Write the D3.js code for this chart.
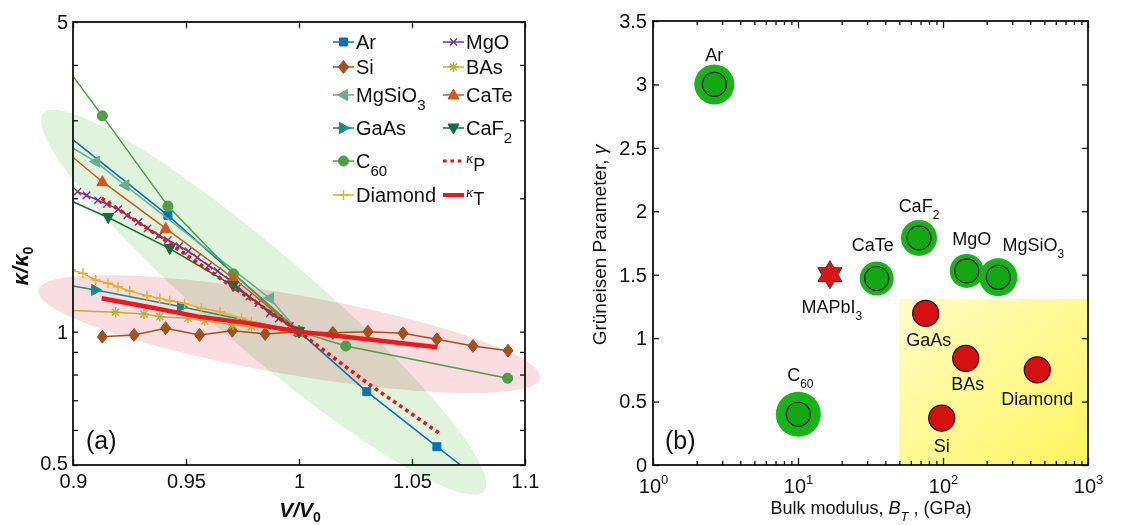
<!DOCTYPE html>
<html>
<head>
<meta charset="utf-8">
<script src="https://cdn.jsdelivr.net/npm/d3@7"></script>
<style>
  body { margin: 0; background: #fff; }
  svg text { font-family: "Liberation Sans", Arial, sans-serif; fill: #111; }
</style>
</head>
<body>
<div id="chart"></div>
<script>
// ---- panel (a) data : [V/V0, kappa/kappa0]
const Ar      = [[0.882, 3.21], [0.942, 1.83], [1.0, 1.0], [1.030, 0.732], [1.061, 0.55], [1.090, 0.422]];
const Si      = [[0.913, 0.974], [0.927, 0.983], [0.941, 1.018], [0.956, 0.983], [0.9705, 1.005], [0.985, 0.988],
                 [1.0, 1.0], [1.015, 0.994], [1.0305, 1.0], [1.046, 0.992], [1.061, 0.961], [1.077, 0.928], [1.0925, 0.906]];
const MgSiO3  = [[0.895, 2.69], [0.910, 2.42], [0.923, 2.14], [0.987, 1.19], [1.0, 1.0]];
const GaAs    = [[0.872, 1.34], [0.910, 1.242], [0.948, 1.138], [1.0, 1.0]];
const C60     = [[0.884, 4.86], [0.913, 3.07], [0.942, 1.92], [0.971, 1.35], [1.0, 1.0], [1.0207, 0.928], [1.0923, 0.785]];
const Diamond = [[0.899, 1.38], [0.9044, 1.354], [0.910, 1.308], [0.9155, 1.286], [0.9199, 1.263], [0.9251, 1.235],
                 [0.9327, 1.205], [0.9384, 1.189], [0.9428, 1.174], [0.9494, 1.159], [0.9568, 1.129], [0.965, 1.109],
                 [0.9746, 1.072], [0.979, 1.053], [1.0, 1.0]];
const MgO     = [[0.902, 2.07], [0.906, 2.03], [0.911, 1.98], [0.915, 1.94], [0.920, 1.89], [0.924, 1.83], [0.929, 1.77],
                 [0.933, 1.71], [0.938, 1.65], [0.942, 1.61], [0.947, 1.56], [0.951, 1.52], [0.955, 1.47], [0.960, 1.41],
                 [0.964, 1.37], [0.969, 1.31], [0.973, 1.26], [0.978, 1.20], [0.982, 1.16], [0.987, 1.10], [0.991, 1.07],
                 [0.996, 1.03], [1.0, 1.0]];
const BAs     = [[0.894, 1.12], [0.9188, 1.106], [0.9314, 1.096], [0.9384, 1.081], [0.9509, 1.072], [0.9583, 1.058],
                 [0.9708, 1.035], [0.979, 1.026], [1.0, 1.0]];
const CaTe    = [[0.884, 2.89], [0.913, 2.18], [0.941, 1.71], [0.971, 1.32], [1.0, 1.0]];
const CaF2    = [[0.888, 2.09], [0.9156, 1.81], [0.9428, 1.54], [0.9708, 1.27], [1.0, 1.0]];
const kappaP  = [[0.9127, 2.0], [0.9414, 1.60], [0.9708, 1.26], [1.0, 1.0], [1.0303, 0.765], [1.0621, 0.59]];
const kappaT  = [[0.9127, 1.19], [0.934, 1.135], [0.956, 1.08], [0.978, 1.044], [1.0, 1.0], [1.0303, 0.961], [1.0613, 0.922]];

const xTicksA = [0.9, 0.95, 1, 1.05, 1.1];
const yTicksA = [0.5, 0.6, 0.7, 0.8, 0.9, 1, 2, 3, 4, 5];
const yLabelsA = [0.5, 1, 5];

// ---- panel (b) data
const materials = ["Ar", "C_{60}", "CaTe", "CaF_{2}", "MgO", "MgSiO_{3}", "GaAs", "BAs", "Diamond", "Si", "MAPbI_{3}"];
const bulkModulus = [2.65, 10.05, 34.9, 68.3, 145.7, 240.6, 76, 143.5, 447, 98, 16.6];
const gruneisen = [3.0, 0.40, 1.47, 1.79, 1.53, 1.48, 1.195, 0.84, 0.75, 0.37, 1.5];
const group = ["g", "g", "g", "g", "g", "g", "r", "r", "r", "r", "star"];
const yTicksB = [0, 0.5, 1, 1.5, 2, 2.5, 3, 3.5];
const xMajorB = [1, 10, 100, 1000];
const regionB = [50, 1000];
const regionGamma = [0, 1.31];

// ---- layout
const svg = d3.select("#chart").append("svg").attr("width", 1131).attr("height", 525);
const defs = svg.append("defs");

const xA = d3.scaleLinear().domain([0.9, 1.1]).range([73, 525]);
const yA = d3.scaleLog().domain([0.5, 5]).range([465, 22]);
const xB = d3.scaleLog().domain([1, 1000]).range([653, 1088]);
const yB = d3.scaleLinear().domain([0, 3.5]).range([465, 21]);

// text helper: _{sub} ^{sup} *{italic} ~{italic sub}
function rich(sel, str, fs, subFs) {
  subFs = subFs || fs * 0.68;
  let shift = 0;
  str.split(/([_^*~]\{[^}]*\})/).filter(t => t).forEach(t => {
    const m = t.match(/^([_^*~])\{([^}]*)\}$/);
    const ts = sel.append("tspan");
    let target = 0;
    if (m) {
      ts.text(m[2]);
      if (m[1] === "_" || m[1] === "~") { target = fs * 0.38; ts.attr("font-size", subFs); }
      else if (m[1] === "^") { target = -fs * 0.45; ts.attr("font-size", subFs); }
      if (m[1] === "*" || m[1] === "~") ts.attr("font-style", "italic");
    } else ts.text(t);
    if (target !== shift) ts.attr("dy", target - shift);
    shift = target;
  });
}

// ================= panel (a) =================
const gA = svg.append("g");

// shaded ellipses, given by their two tips in data space and a half width in px
function ellipse(tip1, tip2, halfW, fill) {
  const p1 = [xA(tip1[0]), yA(tip1[1])], p2 = [xA(tip2[0]), yA(tip2[1])];
  const cx = (p1[0] + p2[0]) / 2, cy = (p1[1] + p2[1]) / 2;
  const rx = Math.hypot(p2[0] - p1[0], p2[1] - p1[1]) / 2;
  const ang = Math.atan2(p2[1] - p1[1], p2[0] - p1[0]) * 180 / Math.PI;
  gA.append("ellipse")
    .attr("cx", cx).attr("cy", cy).attr("rx", rx).attr("ry", halfW)
    .attr("transform", "rotate(" + ang + "," + cx + "," + cy + ")")
    .attr("fill", fill).style("mix-blend-mode", "multiply");
}
ellipse([0.8869, 3.11], [1.0818, 0.437], 49, "#e0f3dd");
ellipse([0.8846, 1.24], [1.1066, 0.786], 40, "#fadde1");

defs.append("clipPath").attr("id", "clipA")
  .append("rect").attr("x", 73).attr("y", 22).attr("width", 452).attr("height", 443);

const markers = {
  square: "M-4,-4H4V4H-4Z",
  diamond: "M0,-6.5L5,0L0,6.5L-5,0Z",
  circle: d3.symbol(d3.symbolCircle, 80)(),
  triUp: "M0,-6L5.5,4L-5.5,4Z",
  triDown: "M0,6L5.5,-4L-5.5,-4Z",
  triLeft: "M-6,0L4,-5.5L4,5.5Z",
  triRight: "M6,0L-4,-5.5L-4,5.5Z",
  plus: "M-5,0H5M0,-5V5",
  cross: "M-3.6,-3.6L3.6,3.6M-3.6,3.6L3.6,-3.6",
  aster: "M-5,0H5M0,-5V5M-3.6,-3.6L3.6,3.6M-3.6,3.6L3.6,-3.6",
  none: ""
};

const series = [
  { label: "Ar", data: Ar, color: "#0b72b5", m: "square" },
  { label: "Si", data: Si, color: "#a4521d", m: "diamond" },
  { label: "MgSiO_{3}", data: MgSiO3, color: "#6dab8f", m: "triLeft" },
  { label: "GaAs", data: GaAs, color: "#178a8c", m: "triRight" },
  { label: "C_{60}", data: C60, color: "#4e9e48", m: "circle" },
  { label: "Diamond", data: Diamond, color: "#e8ae25", m: "plus" },
  { label: "MgO", data: MgO, color: "#7b2f8e", m: "cross" },
  { label: "BAs", data: BAs, color: "#b4b53a", m: "aster" },
  { label: "CaTe", data: CaTe, color: "#d6561a", m: "triUp" },
  { label: "CaF_{2}", data: CaF2, color: "#126f3b", m: "triDown" },
  { label: "κ_{P}", data: kappaP, color: "#e3141b", m: "none", w: 3.6, dash: "3.6,3.8" },
  { label: "κ_{T}", data: kappaT, color: "#f2161a", m: "none", w: 4.5 }
];

const line = d3.line().x(d => xA(d[0])).y(d => yA(d[1]));
const plotA = gA.append("g").attr("clip-path", "url(#clipA)");
series.forEach(s => {
  plotA.append("path").attr("d", line(s.data))
    .attr("fill", "none").attr("stroke", s.color)
    .attr("stroke-width", s.w || 1.5)
    .attr("stroke-dasharray", s.dash || null);
  if (s.m !== "none") {
    const filled = !["plus", "cross", "aster"].includes(s.m);
    plotA.selectAll(null).data(s.data).join("path")
      .attr("d", markers[s.m])
      .attr("transform", d => "translate(" + xA(d[0]) + "," + yA(d[1]) + ")")
      .attr("fill", filled ? s.color : "none")
      .attr("stroke", s.color).attr("stroke-width", filled ? 1 : 1.4);
  }
});

// axes (a)
function styleAxis(g) {
  g.select(".domain").remove();
  g.selectAll(".tick line").attr("stroke", "#111").attr("stroke-width", 1.3);
  g.selectAll("text").attr("font-size", 20).attr("font-family", "Liberation Sans, Arial, sans-serif").attr("fill", "#111");
}
gA.append("g").attr("transform", "translate(0,465)")
  .call(d3.axisBottom(xA).tickValues(xTicksA).tickSize(-6).tickPadding(9).tickFormat(d3.format("")))
  .call(styleAxis);
gA.append("g").attr("transform", "translate(0,22)")
  .call(d3.axisTop(xA).tickValues(xTicksA).tickSize(-6).tickFormat(""))
  .call(styleAxis);
gA.append("g").attr("transform", "translate(73,0)")
  .call(d3.axisLeft(yA).tickValues(yTicksA).tickSize(-5).tickPadding(5)
    .tickFormat(d => yLabelsA.includes(d) ? d : ""))
  .call(styleAxis)
  .call(g => g.selectAll(".tick text").filter(d => d === 0.5).attr("dy", "0.2em"));
gA.append("g").attr("transform", "translate(525,0)")
  .call(d3.axisRight(yA).tickValues(yTicksA).tickSize(-5).tickFormat(""))
  .call(styleAxis);
gA.append("rect").attr("x", 73).attr("y", 22).attr("width", 452).attr("height", 443)
  .attr("fill", "none").attr("stroke", "#111").attr("stroke-width", 1.8);

// legend (a)
const legRows = [42, 67, 95, 128, 161, 195];
series.forEach((s, i) => {
  const col = i < 6 ? 0 : 1, row = i % 6;
  const lx = col ? 443 : 333, ly = legRows[row];
  const g = gA.append("g");
  g.append("line").attr("x1", lx).attr("x2", lx + 21).attr("y1", ly).attr("y2", ly)
    .attr("stroke", s.color).attr("stroke-width", s.w ? s.w * 0.9 : 1.5)
    .attr("stroke-dasharray", s.dash || null);
  if (s.m !== "none") {
    const filled = !["plus", "cross", "aster"].includes(s.m);
    g.append("path").attr("d", markers[s.m])
      .attr("transform", "translate(" + (lx + 10.5) + "," + ly + ")")
      .attr("fill", filled ? s.color : "none").attr("stroke", s.color).attr("stroke-width", filled ? 1 : 1.4);
  }
  const t = g.append("text").attr("x", lx + 23).attr("y", ly + 7).attr("font-size", 20);
  if (s.label.startsWith("κ")) {
    t.attr("y", ly + 2);
    t.append("tspan").text("κ").attr("font-size", 15).attr("font-style", "italic")
      .attr("font-family", "Liberation Serif, serif");
    t.append("tspan").text(s.label.slice(3, 4)).attr("font-size", 18).attr("dy", 8);
  } else rich(t, s.label, 20, 15);
});

gA.append("text").attr("x", 86).attr("y", 449).attr("font-size", 25).text("(a)");

// axis titles (a)
const serif = "Liberation Serif, 'Times New Roman', serif";
const xtA = gA.append("text").attr("x", 300).attr("y", 517).attr("text-anchor", "middle")
  .attr("font-family", serif).attr("font-size", 21).attr("font-weight", "bold").attr("font-style", "italic");
xtA.append("tspan").text("V/V");
xtA.append("tspan").text("0").attr("font-size", 14).attr("dy", 5).attr("font-style", "normal");
const ytA = gA.append("text").attr("transform", "translate(28,266) rotate(-90)").attr("text-anchor", "middle")
  .attr("font-family", serif).attr("font-size", 22).attr("font-weight", "bold").attr("font-style", "italic");
ytA.append("tspan").text("κ/κ");
ytA.append("tspan").text("0").attr("font-size", 14).attr("dy", 5).attr("font-style", "normal");

// ================= panel (b) =================
const gB = svg.append("g");
const grad = defs.append("linearGradient").attr("id", "yel")
  .attr("x1", 0).attr("y1", 0).attr("x2", 1).attr("y2", 1);
grad.append("stop").attr("offset", 0).attr("stop-color", "#fffdc6");
grad.append("stop").attr("offset", 1).attr("stop-color", "#fff460");
gB.append("rect")
  .attr("x", xB(regionB[0])).attr("y", yB(regionGamma[1]))
  .attr("width", xB(regionB[1]) - xB(regionB[0]))
  .attr("height", yB(regionGamma[0]) - yB(regionGamma[1]))
  .attr("fill", "url(#yel)");

// axes (b)
const xMinorB = [];
[1, 10, 100].forEach(p => { for (let k = 2; k <= 9; k++) xMinorB.push(p * k); });
function xAxesB(axisFn, y) {
  gB.append("g").attr("transform", "translate(0," + y + ")")
    .call(axisFn(xB).tickValues(xMinorB).tickSize(-4).tickFormat("")).call(styleAxis);
  return gB.append("g").attr("transform", "translate(0," + y + ")")
    .call(axisFn(xB).tickValues(xMajorB).tickSize(-7).tickPadding(9).tickFormat("")).call(styleAxis);
}
xAxesB(d3.axisTop, 21);
const bottomB = xAxesB(d3.axisBottom, 465);
bottomB.selectAll(".tick").each(function (d) {
  const t = d3.select(this).append("text").attr("y", 28).attr("text-anchor", "middle")
    .attr("font-size", 20).attr("fill", "#111");
  rich(t, "10^{" + Math.round(Math.log10(d)) + "}", 20, 13);
});
gB.append("g").attr("transform", "translate(653,0)")
  .call(d3.axisLeft(yB).tickValues(yTicksB).tickSize(-6).tickPadding(6).tickFormat(d3.format("")))
  .call(styleAxis);
gB.append("g").attr("transform", "translate(1088,0)")
  .call(d3.axisRight(yB).tickValues(yTicksB).tickSize(-6).tickFormat(""))
  .call(styleAxis);
gB.append("rect").attr("x", 653).attr("y", 21).attr("width", 435).attr("height", 444)
  .attr("fill", "none").attr("stroke", "#111").attr("stroke-width", 1.8);

// points (b)
const outerR = { "Ar": 20, "C_{60}": 22.5, "CaTe": 17, "CaF_{2}": 18, "MgO": 17, "MgSiO_{3}": 19 };
const labelOff = {
  "Ar": [0, -23], "C_{60}": [2, -33], "CaTe": [-4, -28], "CaF_{2}": [0, -26], "MgO": [5, -26],
  "MgSiO_{3}": [35, -26], "GaAs": [3, 33], "BAs": [2, 32], "Diamond": [0, 35], "Si": [0, 34], "MAPbI_{3}": [2, 38]
};
function hexagram(R) {
  const r = R / Math.sqrt(3), pts = [];
  for (let i = 0; i < 12; i++) {
    const a = -Math.PI / 2 + i * Math.PI / 6, rr = i % 2 ? r : R;
    pts.push([rr * Math.cos(a), rr * Math.sin(a)]);
  }
  return "M" + pts.map(p => p.join(",")).join("L") + "Z";
}
materials.forEach((name, i) => {
  const cx = xB(bulkModulus[i]), cy = yB(gruneisen[i]);
  if (group[i] === "g") {
    gB.append("circle").attr("cx", cx).attr("cy", cy).attr("r", outerR[name]).attr("fill", "#17b417");
    gB.append("circle").attr("cx", cx).attr("cy", cy).attr("r", 12).attr("fill", "#12a812")
      .attr("stroke", "#111").attr("stroke-width", 1.2);
  } else if (group[i] === "r") {
    gB.append("circle").attr("cx", cx).attr("cy", cy).attr("r", 13).attr("fill", "#d41010")
      .attr("stroke", "#3a0000").attr("stroke-width", 1.3);
  } else {
    gB.append("path").attr("d", hexagram(14)).attr("transform", "translate(" + cx + "," + cy + ")")
      .attr("fill", "#d81616").attr("stroke", "#5a0000").attr("stroke-width", 0.8);
  }
  const o = labelOff[name];
  const t = gB.append("text").attr("x", cx + o[0]).attr("y", cy + o[1])
    .attr("text-anchor", "middle").attr("font-size", 18);
  rich(t, name, 18, 12);
});

gB.append("text").attr("x", 665).attr("y", 449).attr("font-size", 25).text("(b)");

// axis titles (b)
const xtB = gB.append("text").attr("x", 871).attr("y", 514).attr("text-anchor", "middle").attr("font-size", 18);
rich(xtB, "Bulk modulus,  *{B}~{T} , (GPa)", 18, 13);
gB.append("text").attr("transform", "translate(606,245) rotate(-90)").attr("text-anchor", "middle")
  .attr("font-size", 19).call(t => rich(t, "Grüneisen Parameter, *{γ}", 19));
</script>
</body>
</html>
